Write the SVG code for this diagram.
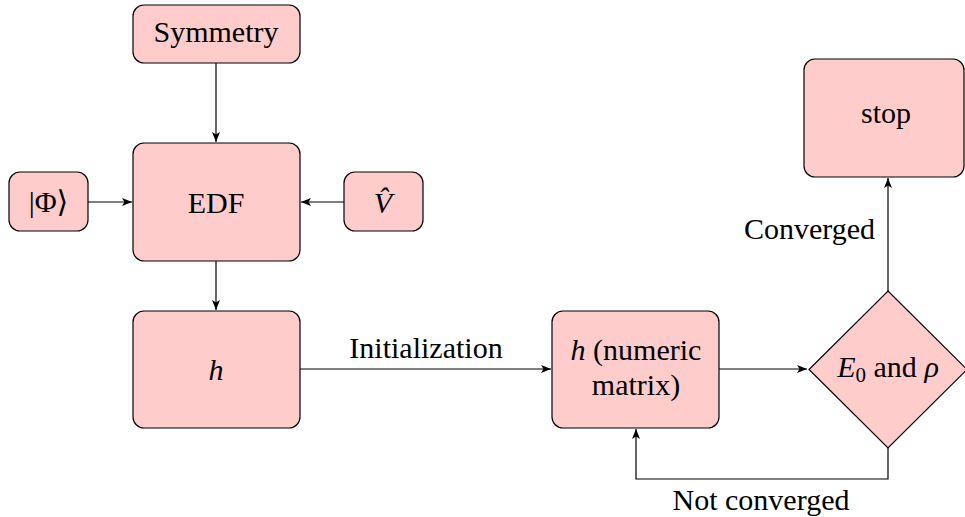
<svg xmlns="http://www.w3.org/2000/svg" width="965" height="517" viewBox="0 0 965 517">
  <style>
    .box { fill: #ffcccc; stroke: #000; stroke-width: 1.2; }
    .edge { fill: none; stroke: #000; stroke-width: 1.2; marker-end: url(#arrow); }
  </style>
  <defs>
    <marker id="arrow" viewBox="0 0 10 8" refX="10" refY="4" markerWidth="10" markerHeight="8" markerUnits="userSpaceOnUse" orient="auto">
      <path d="M0,0 L10,4 L0,8 L2.5,4 Z" fill="#000"/>
    </marker>
  </defs>

  <rect width="965" height="517" fill="#fff"/>

  <!-- connectors and their labels -->
  <g id="connectors">
    <path class="edge" d="M216,63 L216,142"/>
    <path class="edge" d="M88,202 L132,202"/>
    <path class="edge" d="M344,202 L301,202"/>
    <path class="edge" d="M216,261 L216,310"/>
    <path class="edge" d="M300,369 L551,369"/>
    <path class="edge" d="M719,369 L807,369"/>
    <path class="edge" d="M888,291 L888,178"/>
    <path class="edge" d="M888,448 L888,479 L636,479 L636,429"/>
    <g font-family="'Times New Roman', 'Liberation Serif', 'DejaVu Serif', serif" font-size="30" fill="#000">
      <text x="426" y="358" text-anchor="middle">Initialization</text>
      <text x="875" y="239" text-anchor="end">Converged</text>
      <text x="761" y="510" text-anchor="middle">Not converged</text>
    </g>
  </g>

  <!-- nodes -->
  <g id="symmetry"><rect class="box" x="133" y="5" width="167" height="58" rx="11"/></g>
  <g id="edf"><rect class="box" x="133" y="143" width="167" height="118" rx="11"/></g>
  <g id="phi"><rect class="box" x="9" y="172" width="79" height="59" rx="11"/></g>
  <g id="potential"><rect class="box" x="344" y="172" width="79" height="59" rx="11"/></g>
  <g id="h-symbolic"><rect class="box" x="133" y="311" width="167" height="117" rx="11"/></g>
  <g id="h-numeric"><rect class="box" x="552" y="311" width="167" height="117" rx="11"/></g>
  <g id="check"><polygon class="box" points="888,291 967,369.5 888,448 809,369.5"/></g>
  <g id="stop"><rect class="box" x="804" y="59" width="160" height="118" rx="11"/></g>

  <!-- node labels -->
  <g font-family="'Times New Roman', 'Liberation Serif', 'DejaVu Serif', serif" font-size="30" fill="#000" text-anchor="middle">
    <text x="216" y="42">Symmetry</text>
    <text x="216" y="213">EDF</text>
    <text x="48.5" y="212">|Φ⟩</text>
    <text x="383" y="213" font-style="italic">V̂</text>
    <text x="216" y="380" font-style="italic">h</text>
    <text x="636" y="360"><tspan font-style="italic">h</tspan> (numeric</text>
    <text x="636" y="395">matrix)</text>
    <text x="888" y="377"><tspan font-style="italic">E</tspan><tspan font-size="21" dy="5">0</tspan><tspan dy="-5"> and </tspan><tspan font-style="italic">ρ</tspan></text>
    <text x="886" y="123">stop</text>
  </g>
</svg>
